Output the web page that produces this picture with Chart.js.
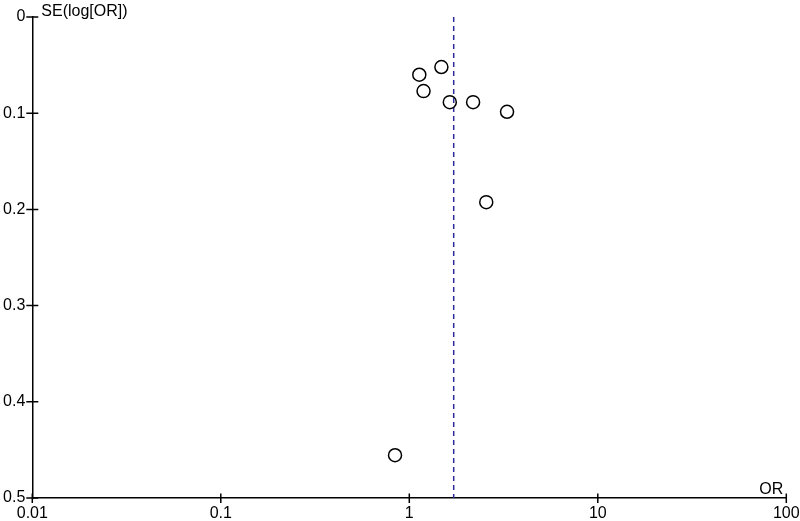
<!DOCTYPE html>
<html><head><meta charset="utf-8">
<script src="https://cdn.jsdelivr.net/npm/chart.js@4"></script>
<style>html,body{margin:0;padding:0;background:#fff}#wrap{width:800px;height:521px}</style>
</head><body><div id="wrap"><canvas id="c" width="800" height="521"></canvas></div>
<script>
// Data
const orValues = [1.48, 1.13, 1.19, 1.64, 2.18, 3.30, 2.56, 0.84];
const seValues = [0.052, 0.060, 0.077, 0.0885, 0.0885, 0.0985, 0.1925, 0.4555];
const pooledOR = 1.72;
const pooledLineSE = [0, 0.5];
const xTicks = [0.01, 0.1, 1, 10, 100];
const xTickLabels = ['0.01', '0.1', '1', '10', '100'];
const yTicks = [0, 0.1, 0.2, 0.3, 0.4, 0.5];
const yTickLabels = ['0', '0.1', '0.2', '0.3', '0.4', '0.5'];
const xTitle = 'OR';
const yTitle = 'SE(log[OR])';

const FONT = 'Liberation Sans, Arial, sans-serif';

const axisDecor = {
  id: 'axisDecor',
  afterDraw(chart) {
    const ctx = chart.ctx;
    const xs = chart.scales.x, ys = chart.scales.y;
    const a = chart.chartArea;
    ctx.save();
    ctx.strokeStyle = '#000';
    ctx.lineWidth = 1.5;
    ctx.beginPath();
    xTicks.forEach(v => {
      const px = xs.getPixelForValue(v);
      ctx.moveTo(px, a.bottom - 4.5);
      ctx.lineTo(px, a.bottom + 5);
    });
    yTicks.forEach(v => {
      const py = ys.getPixelForValue(v);
      ctx.moveTo(a.left - 6, py);
      ctx.lineTo(a.left + 6, py);
    });
    ctx.stroke();
    ctx.fillStyle = '#000';
    ctx.font = '16px ' + FONT;
    ctx.textBaseline = 'alphabetic';
    ctx.textAlign = 'left';
    ctx.fillText(yTitle, a.left + 9, 16);
    ctx.textAlign = 'right';
    ctx.fillText(xTitle, a.right - 3, a.bottom - 4);
    ctx.restore();
  }
};

new Chart(document.getElementById('c'), {
  type: 'scatter',
  data: {
    datasets: [
      {
        type: 'scatter',
        data: orValues.map((x, i) => ({ x: x, y: seValues[i] })),
        pointRadius: 6.5,
        pointHoverRadius: 6.5,
        pointBorderWidth: 1.5,
        pointBorderColor: '#000',
        pointBackgroundColor: 'rgba(255,255,255,0)',
        showLine: false
      },
      {
        type: 'line',
        data: pooledLineSE.map(y => ({ x: pooledOR, y: y })),
        borderColor: '#2a2a9c',
        borderWidth: 1.5,
        borderDash: [5, 4],
        pointRadius: 0,
        fill: false
      }
    ]
  },
  options: {
    responsive: false,
    animation: false,
    devicePixelRatio: 1,
    layout: { padding: { top: 17, right: 13.7, left: 0, bottom: 0 } },
    plugins: { legend: { display: false }, tooltip: { enabled: false } },
    scales: {
      x: {
        type: 'logarithmic',
        min: 0.01,
        max: 100,
        afterBuildTicks: s => { s.ticks = xTicks.map(v => ({ value: v })); },
        afterFit: s => { s.height = 23; s.paddingLeft = 0; s.paddingRight = 0; },
        ticks: {
          autoSkip: false,
          maxRotation: 0,
          padding: 6,
          color: '#000',
          font: { family: FONT, size: 16 },
          callback: (v) => { const i = xTicks.findIndex(t => Math.abs(t - v) < t * 1e-6); return i >= 0 ? xTickLabels[i] : ''; }
        },
        grid: { display: false, drawTicks: false },
        border: { display: true, color: '#000', width: 1.5 }
      },
      y: {
        type: 'linear',
        reverse: true,
        min: 0,
        max: 0.5,
        afterBuildTicks: s => { s.ticks = yTicks.map(v => ({ value: v })); },
        afterFit: s => { s.width = 32.3; s.paddingTop = 0; s.paddingBottom = 0; },
        ticks: {
          autoSkip: false,
          padding: 7,
          color: '#000',
          font: { family: FONT, size: 16 },
          callback: (v) => { const i = yTicks.findIndex(t => Math.abs(t - v) < 1e-9); return i >= 0 ? yTickLabels[i] : ''; }
        },
        grid: { display: false, drawTicks: false },
        border: { display: true, color: '#000', width: 1.5 }
      }
    }
  },
  plugins: [axisDecor]
});
</script>
</body></html>
